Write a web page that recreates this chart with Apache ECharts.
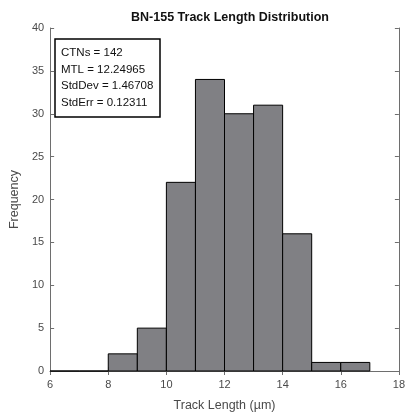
<!DOCTYPE html>
<html><head><meta charset="utf-8">
<script src="https://cdn.jsdelivr.net/npm/echarts@6/dist/echarts.min.js"></script>
<style>html,body{margin:0;padding:0;background:#fff}#c{width:408px;height:417px}</style>
</head><body><div id="c"></div>
<script>
var binStarts = [6, 7, 8, 9, 10, 11, 12, 13, 14, 15, 16];
var binWidth = 1;
var counts = [0, 0, 2, 5, 22, 34, 30, 31, 16, 1, 1];
var xTicks = [6, 8, 10, 12, 14, 16, 18];
var yTicks = [0, 5, 10, 15, 20, 25, 30, 35, 40];
var statsLines = ['CTNs = 142', 'MTL = 12.24965', 'StdDev = 1.46708', 'StdErr = 0.12311'];

var data = binStarts.map(function (s, i) { return [s, s + binWidth, counts[i]]; });
var chart = echarts.init(document.getElementById('c'));
var font = 'Liberation Sans, Arial, sans-serif';
var axisCol = '#6e6e6e';
var labelCol = '#4a4a4a';
function axisBase(extra) {
  return Object.assign({
    type: 'value',
    axisLine: { show: true, lineStyle: { color: axisCol, width: 1 } },
    axisTick: { show: true, inside: true, length: 4, lineStyle: { color: axisCol } },
    splitLine: { show: false },
    axisLabel: { color: labelCol, fontFamily: font, fontSize: 11 }
  }, extra);
}
chart.setOption({
  animation: false,
  title: { text: 'BN-155 Track Length Distribution', left: 225, top: 6, textAlign: 'center',
    textStyle: { fontFamily: font, fontSize: 12.5, fontWeight: 'bold', color: '#111' } },
  grid: { left: 45, right: 5, top: 28, bottom: 45 },
  xAxis: [
    axisBase({ min: 6, max: 18, interval: 2, name: 'Track Length (µm)', nameLocation: 'middle', nameGap: 28,
      nameTextStyle: { color: labelCol, fontFamily: font, fontSize: 12.5 },
      axisLabel: { color: labelCol, fontFamily: font, fontSize: 11, margin: 8 } }),
    axisBase({ min: 6, max: 18, interval: 2, position: 'top', axisLabel: { show: false } })
  ],
  yAxis: [
    axisBase({ min: 0, max: 40, interval: 5, name: 'Frequency', nameLocation: 'middle', nameGap: 20,
      nameTextStyle: { color: labelCol, fontFamily: font, fontSize: 12.5 },
      axisLabel: { color: labelCol, fontFamily: font, fontSize: 11, margin: 6 } }),
    axisBase({ min: 0, max: 40, interval: 5, position: 'right', axisLabel: { show: false } })
  ],
  series: [{
    type: 'custom',
    data: data,
    encode: { x: [0, 1], y: 2 },
    renderItem: function (params, api) {
      var p0 = api.coord([api.value(0), api.value(2)]);
      var p1 = api.coord([api.value(1), 0]);
      return {
        type: 'rect',
        shape: { x: p0[0], y: p0[1], width: p1[0] - p0[0], height: p1[1] - p0[1] },
        style: { fill: '#808084', stroke: '#000', lineWidth: 1 }
      };
    }
  }],
  graphic: [
    { type: 'rect', shape: { x: 55, y: 39, width: 105, height: 78 },
      style: { fill: '#fff', stroke: '#000', lineWidth: 1.5 } }
  ].concat(statsLines.map(function (t, i) {
    return { type: 'text', x: 61, y: 53 + i * 16.5,
      style: { text: t, fill: '#111', font: '11.5px ' + font, textVerticalAlign: 'middle' } };
  }))
});
</script></body></html>
